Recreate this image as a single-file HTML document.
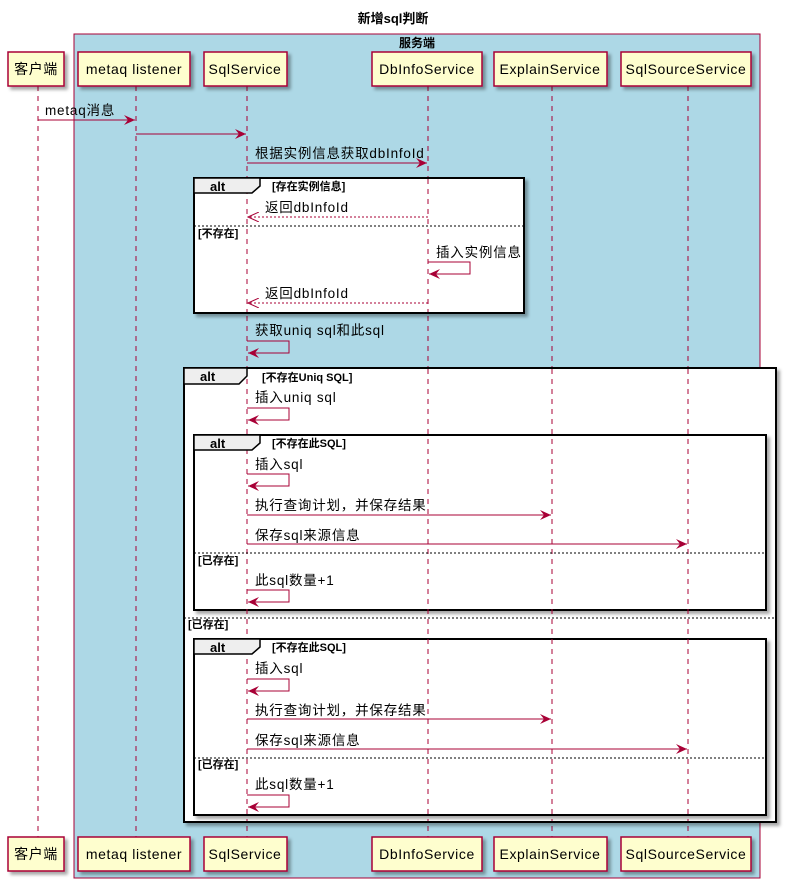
<!DOCTYPE html>
<html><head><meta charset="utf-8"><style>
body{margin:0;background:#fff}
svg text{font-family:"Liberation Sans","Noto Sans CJK SC",sans-serif}
</style></head><body>
<svg width="786" height="887" xmlns="http://www.w3.org/2000/svg">
<defs>
<filter id="sh" x="-10%" y="-10%" width="130%" height="130%"><feDropShadow dx="3" dy="3" stdDeviation="1.5" flood-color="#000" flood-opacity="0.35"/></filter>
<marker id="ar" markerWidth="12" markerHeight="10" refX="11" refY="5" orient="auto" markerUnits="userSpaceOnUse"><path d="M0,0 L11,5 L0,10 L4,5 Z" fill="#A80036"/></marker>
<marker id="ao" markerWidth="12" markerHeight="10" refX="11" refY="5" orient="auto" markerUnits="userSpaceOnUse"><path d="M0,0 L11,5 L0,10" fill="none" stroke="#A80036" stroke-width="1"/></marker>
</defs>
<text x="393" y="23" font-size="13" font-weight="bold" text-anchor="middle">新增sql判断</text>
<rect x="74" y="34" width="686" height="844" fill="#ADD8E6" stroke="#A80036" stroke-width="1"/>
<text x="417" y="47" font-size="12" font-weight="bold" text-anchor="middle">服务端</text>
<g stroke="#A80036" stroke-dasharray="5,5" stroke-width="1">
<line x1="38" y1="86" x2="38" y2="837"/><line x1="136" y1="86" x2="136" y2="837"/><line x1="247" y1="86" x2="247" y2="837"/><line x1="428" y1="86" x2="428" y2="837"/><line x1="552" y1="86" x2="552" y2="837"/><line x1="688" y1="86" x2="688" y2="837"/>
</g>
<g fill="#FEFECE" stroke="#A80036" stroke-width="1.5" filter="url(#sh)">
<rect x="8" y="52" width="56" height="34"/><rect x="78" y="52" width="112" height="34"/><rect x="204" y="52" width="83" height="34"/><rect x="372" y="52" width="110" height="34"/><rect x="494" y="52" width="113" height="34"/><rect x="621" y="52" width="130" height="34"/>
<rect x="8" y="837" width="56" height="34"/><rect x="78" y="837" width="112" height="34"/><rect x="204" y="837" width="83" height="34"/><rect x="372" y="837" width="110" height="34"/><rect x="494" y="837" width="113" height="34"/><rect x="621" y="837" width="130" height="34"/>
</g>
<g font-size="14" text-anchor="middle" letter-spacing="0.6">
<text x="36" y="74">客户端</text><text x="134" y="74">metaq listener</text><text x="245" y="74">SqlService</text><text x="427" y="74">DbInfoService</text><text x="550" y="74">ExplainService</text><text x="686" y="74">SqlSourceService</text>
<text x="36" y="859">客户端</text><text x="134" y="859">metaq listener</text><text x="245" y="859">SqlService</text><text x="427" y="859">DbInfoService</text><text x="550" y="859">ExplainService</text><text x="686" y="859">SqlSourceService</text>
</g>
<g fill="#fff" stroke="#000" stroke-width="2" filter="url(#sh)">
<rect x="194" y="178" width="330" height="135"/>
<rect x="184" y="368" width="592" height="454"/>
</g>
<g fill="none" stroke="#000" stroke-width="2" filter="url(#sh)">
<rect x="194" y="435" width="572" height="175" fill="#fff"/>
<rect x="194" y="639" width="572" height="176" fill="#fff"/>
</g>
<g stroke="#A80036" stroke-dasharray="5,5" stroke-width="1">
<line x1="247" y1="179" x2="247" y2="312"/><line x1="428" y1="179" x2="428" y2="312"/>
<line x1="247" y1="369" x2="247" y2="821"/><line x1="428" y1="369" x2="428" y2="821"/><line x1="552" y1="369" x2="552" y2="821"/><line x1="688" y1="369" x2="688" y2="821"/>
</g>
<g fill="#EEEEEE" stroke="#000" stroke-width="1.5">
<path d="M194,178 H260 V186 L252,193 H194 Z"/>
<path d="M184,368 H247 V376 L239,384 H184 Z"/>
<path d="M194,435 H260 V443 L252,450 H194 Z"/>
<path d="M194,639 H260 V647 L252,654 H194 Z"/>
</g>
<g font-size="13" font-weight="bold">
<text x="210" y="191">alt</text><text x="200" y="381">alt</text><text x="210" y="448">alt</text><text x="210" y="652">alt</text>
</g>
<g font-size="11" font-weight="bold">
<text x="272" y="190">[存在实例信息]</text>
<text x="198" y="237">[不存在]</text>
<text x="262" y="381">[不存在Uniq SQL]</text>
<text x="272" y="447">[不存在此SQL]</text>
<text x="198" y="564">[已存在]</text>
<text x="188" y="628">[已存在]</text>
<text x="272" y="651">[不存在此SQL]</text>
<text x="198" y="768">[已存在]</text>
</g>
<g stroke="#000" stroke-dasharray="2,2" stroke-width="1">
<line x1="194" y1="226" x2="524" y2="226"/><line x1="194" y1="553" x2="766" y2="553"/><line x1="184" y1="618" x2="776" y2="618"/><line x1="194" y1="758" x2="766" y2="758"/>
</g>
<g stroke="#A80036" stroke-width="1" fill="none">
<line x1="38" y1="120" x2="135" y2="120" marker-end="url(#ar)"/>
<line x1="136" y1="134" x2="246" y2="134" marker-end="url(#ar)"/>
<line x1="247" y1="163" x2="427" y2="163" marker-end="url(#ar)"/>
<line x1="428" y1="217" x2="248" y2="217" stroke-dasharray="2,2" marker-end="url(#ao)"/>
<polyline points="428,262 470,262 470,274 429,274" marker-end="url(#ar)"/>
<line x1="428" y1="303" x2="248" y2="303" stroke-dasharray="2,2" marker-end="url(#ao)"/>
<polyline points="247,341 289,341 289,353 248,353" marker-end="url(#ar)"/>
<polyline points="247,408 289,408 289,420 248,420" marker-end="url(#ar)"/>
<polyline points="247,474 289,474 289,486 248,486" marker-end="url(#ar)"/>
<line x1="247" y1="515" x2="551" y2="515" marker-end="url(#ar)"/>
<line x1="247" y1="544" x2="687" y2="544" marker-end="url(#ar)"/>
<polyline points="247,590 289,590 289,602 248,602" marker-end="url(#ar)"/>
<polyline points="247,679 289,679 289,691 248,691" marker-end="url(#ar)"/>
<line x1="247" y1="719" x2="551" y2="719" marker-end="url(#ar)"/>
<line x1="247" y1="749" x2="687" y2="749" marker-end="url(#ar)"/>
<polyline points="247,795 289,795 289,807 248,807" marker-end="url(#ar)"/>
</g>
<g font-size="13.5" letter-spacing="0.8">
<text x="45" y="115">metaq消息</text>
<text x="255" y="158">根据实例信息获取dbInfoId</text>
<text x="265" y="212">返回dbInfoId</text>
<text x="436" y="257">插入实例信息</text>
<text x="265" y="298">返回dbInfoId</text>
<text x="255" y="335">获取uniq sql和此sql</text>
<text x="255" y="402">插入uniq sql</text>
<text x="255" y="469">插入sql</text>
<text x="255" y="510">执行查询计划，并保存结果</text>
<text x="255" y="540">保存sql来源信息</text>
<text x="255" y="585">此sql数量+1</text>
<text x="255" y="673">插入sql</text>
<text x="255" y="715">执行查询计划，并保存结果</text>
<text x="255" y="745">保存sql来源信息</text>
<text x="255" y="789">此sql数量+1</text>
</g>
</svg>
</body></html>
